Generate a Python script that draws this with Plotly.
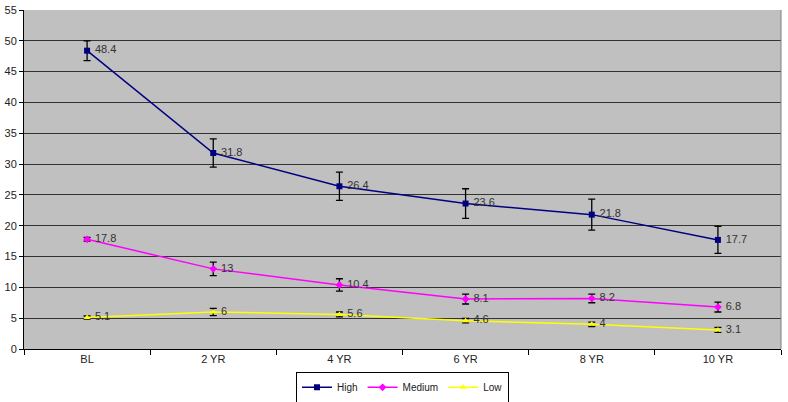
import plotly.graph_objects as go

# data
categories = ['BL', '2 YR', '4 YR', '6 YR', '8 YR', '10 YR']
high = [48.4, 31.8, 26.4, 23.6, 21.8, 17.7]
high_err = [1.6, 2.3, 2.3, 2.4, 2.5, 2.2]
medium = [17.8, 13, 10.4, 8.1, 8.2, 6.8]
medium_err = [0.3, 1.1, 1.0, 0.8, 0.7, 0.8]
low = [5.1, 6, 5.6, 4.6, 4, 3.1]
low_err = [0.25, 0.6, 0.4, 0.35, 0.35, 0.4]

series = [
    ('High', high, high_err, '#000080', 'square'),
    ('Medium', medium, medium_err, '#FF00FF', 'diamond'),
    ('Low', low, low_err, '#FFFF00', 'triangle-up'),
]

fig = go.Figure()
for name, vals, err, color, sym in series:
    fig.add_trace(go.Scatter(
        x=categories, y=vals, name=name,
        mode='lines+markers+text',
        line=dict(color=color, width=1.5),
        marker=dict(color=color, symbol=sym, size=6),
        text=[' ' + str(v) for v in vals],
        textposition='middle right',
        textfont=dict(family='Liberation Sans, Arial', size=11, color='#333333'),
        error_y=dict(type='data', array=err, visible=True,
                     color='black', thickness=1.3, width=3.5),
    ))

fig.update_layout(
    width=788, height=402,
    margin=dict(l=24, r=7, t=10, b=53, autoexpand=False),
    paper_bgcolor='white',
    plot_bgcolor='#C0C0C0',
    font=dict(family='Liberation Sans, Arial', size=11, color='#222222'),
    showlegend=True,
    legend=dict(orientation='h', x=0.5, xanchor='center', y=-0.113, yanchor='middle',
                bordercolor='black', borderwidth=1, bgcolor='white',
                font=dict(size=10), itemwidth=30, tracegroupgap=0),
)

fig.update_xaxes(
    type='category', showgrid=False, showline=True, linecolor='black', linewidth=1,
    ticks='outside', tickson='boundaries', ticklen=5, tickcolor='black',
    mirror=False, zeroline=False, range=[-0.5, 5.5], automargin=False,
)
fig.update_yaxes(
    range=[0, 55], dtick=5, showgrid=True, gridcolor='#333333', gridwidth=1,
    showline=True, linecolor='black', linewidth=1,
    ticks='outside', ticklen=4, tickcolor='black', zeroline=False, automargin=False,
)

# light border on right of plot area
fig.add_shape(type='line', xref='paper', yref='paper', x0=1, x1=1, y0=0, y1=1,
              line=dict(color='#808080', width=1))

# drop the default page margin so the chart sits at the window's corner
fig.write_html('out.html', config={'displayModeBar': False},
               post_script="document.body.style.margin='0';")
